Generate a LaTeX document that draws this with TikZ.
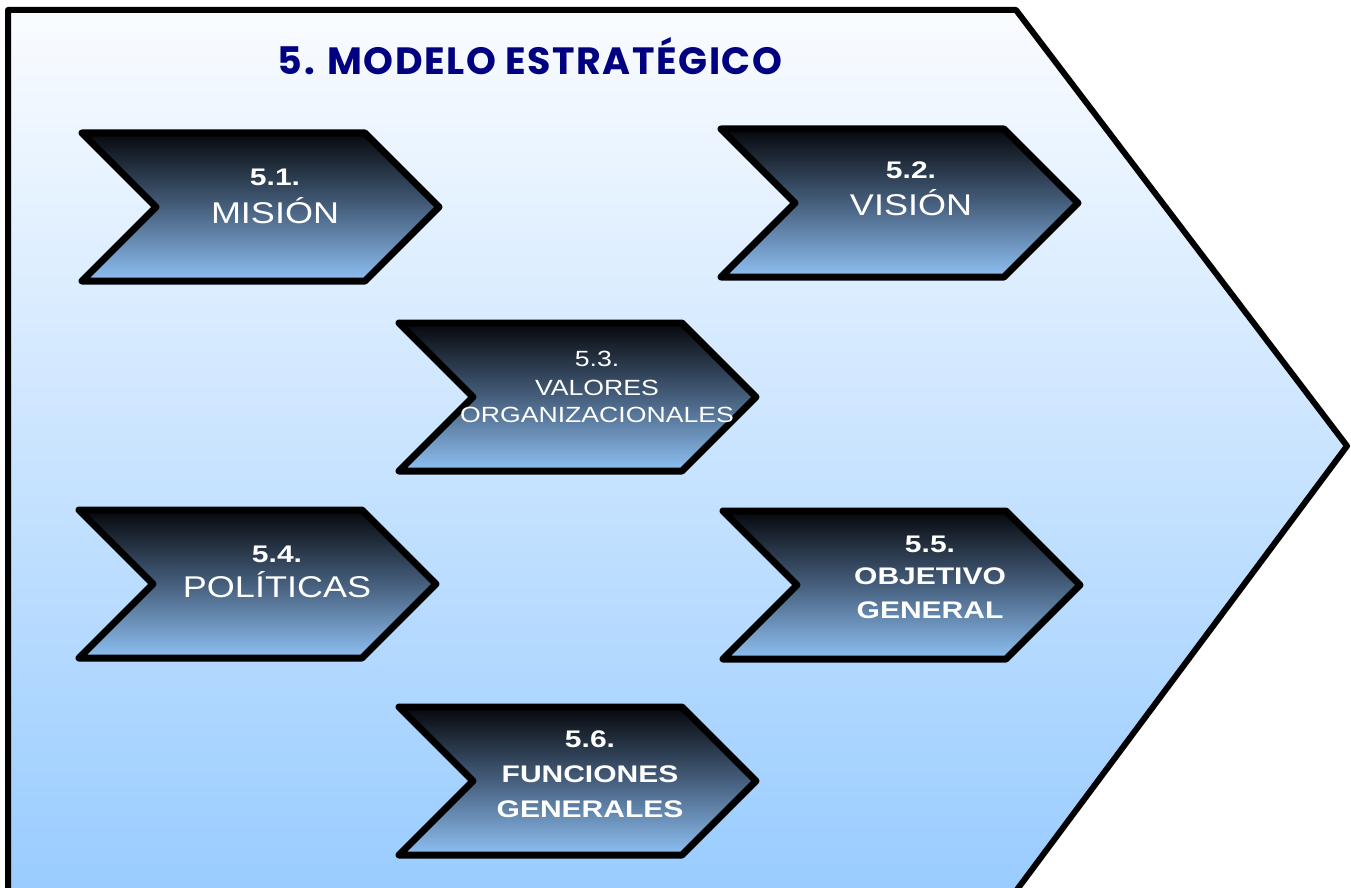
\documentclass[tikz,border=0pt]{standalone}
\usepackage{fontspec}
\setmainfont{Liberation Sans}
\newfontfamily\titlefont[LetterSpace=4]{Poppins}
\definecolor{navy}{RGB}{0,0,128}
\definecolor{bgtop}{RGB}{250,252,255}
\definecolor{bgbot}{RGB}{153,204,255}
\definecolor{chtop}{RGB}{6,8,12}
\definecolor{chmid}{RGB}{70,95,125}
\definecolor{chbot}{RGB}{142,192,242}
\tikzset{
  frame/.style={line width=6pt, line join=round, top color=bgtop, bottom color=bgbot},
  chev/.style={line width=7pt, line join=round, top color=chtop, bottom color=chbot, middle color=chmid},
  numtxt/.style={font=\bfseries\fontsize{24}{24}\selectfont, text=white, xscale=1.25, anchor=base, inner sep=0pt},
  bigtxt/.style={font=\fontsize{30}{30}\selectfont, text=white, xscale=1.2, anchor=base, inner sep=0pt},
  smalltxt/.style={font=\fontsize{22}{22}\selectfont, text=white, xscale=1.21, anchor=base, inner sep=0pt},
  boldtxt/.style={font=\bfseries\fontsize{24}{24}\selectfont, text=white, xscale=1.25, anchor=base, inner sep=0pt},
  titletxt/.style={font=\titlefont\bfseries\fontsize{38}{38}\selectfont, text=navy, anchor=base, inner sep=0pt}
}
\newcommand{\chevron}[3]{\draw[chev] (#1,#2) coordinate (#3) -- ++(283,0) -- ++(74,74) -- ++(-74,74) -- ++(-283,0) -- ++(74,-74) -- cycle;}
\begin{document}
\begin{tikzpicture}[x=1pt,y=-1pt]
\useasboundingbox (0,0) rectangle (1351,888);
\draw[frame] (8,10) coordinate (f1) -- (1016,10) coordinate (f2) -- (1347,446) coordinate (f3) -- (1016,891) coordinate (f4) -- (8,891) coordinate (f5) -- cycle;
\node[titletxt] (title) at (530,75) {5. MODELO ESTRATÉGICO};
% chevrons
\chevron{82}{133}{c1}
\chevron{721}{129}{c2}
\chevron{399}{323}{c3}
\chevron{79}{510}{c4}
\chevron{723}{511}{c5}
\chevron{399}{707}{c6}
% texts
\node[numtxt] (t1a) at (275,185) {5.1.};
\node[bigtxt] (t1b) at (275,223) {MISIÓN};
\node[numtxt] (t2a) at (911,178) {5.2.};
\node[bigtxt] (t2b) at (911,215) {VISIÓN};
\node[smalltxt] (t3a) at (597,366) {5.3.};
\node[smalltxt] (t3b) at (597,395) {VALORES};
\node[smalltxt] (t3c) at (597,422) {ORGANIZACIONALES};
\node[numtxt] (t4a) at (277,562) {5.4.};
\node[bigtxt] (t4b) at (277,597) {POLÍTICAS};
\node[boldtxt] (t5a) at (930,552) {5.5.};
\node[boldtxt] (t5b) at (930,584) {OBJETIVO};
\node[boldtxt] (t5c) at (930,618) {GENERAL};
\node[boldtxt] (t6a) at (590,747) {5.6.};
\node[boldtxt] (t6b) at (590,782) {FUNCIONES};
\node[boldtxt] (t6c) at (590,817) {GENERALES};
\end{tikzpicture}
\end{document}
